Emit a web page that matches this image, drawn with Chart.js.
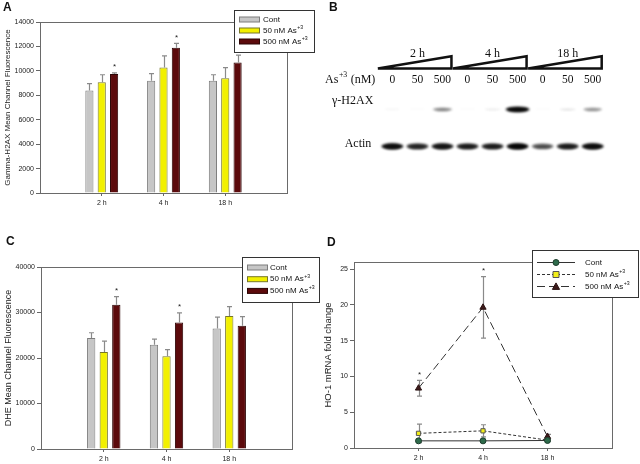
<!DOCTYPE html>
<html>
<head>
<meta charset="utf-8">
<script src="https://cdn.jsdelivr.net/npm/chart.js@4.4.1/dist/chart.umd.min.js"></script>
<style>
body{margin:0;background:#fff;width:640px;height:464px;position:relative;overflow:hidden;font-family:"Liberation Sans",Arial,sans-serif}
canvas{position:absolute;display:block}
.tag{position:absolute;font-weight:bold;font-size:12px;color:#111;line-height:12px}
</style>
</head>
<body>
<canvas id="chA" width="320" height="230" style="left:0;top:0"></canvas>
<canvas id="chB" width="320" height="230" style="left:320px;top:0"></canvas>
<canvas id="chC" width="320" height="234" style="left:0;top:230px"></canvas>
<canvas id="chD" width="320" height="234" style="left:320px;top:230px"></canvas>
<div class="tag" style="left:3px;top:1px">A</div>
<div class="tag" style="left:329px;top:1px">B</div>
<div class="tag" style="left:6px;top:235px">C</div>
<div class="tag" style="left:327px;top:236px">D</div>
<script>
// categories
var timeLabels = ['2 h', '4 h', '18 h'];
var seriesNames = ['Cont', '50 nM As+3', '500 nM As+3'];

// A - gamma-H2AX mean channel fluorescence
var h2axCont = [8400, 9180, 9180];
var h2axLow = [9060, 10270, 9400];
var h2axHigh = [9750, 11900, 10680];
var h2axContErr = [550, 600, 500];
var h2axLowErr = [620, 950, 870];
var h2axHighErr = [80, 350, 600];
var h2axHighStar = [1, 1, 0];

// C - DHE mean channel fluorescence
var dheCont = [24400, 22900, 26500];
var dheLow = [21300, 20400, 29250];
var dheHigh = [31700, 27800, 27100];
var dheContErr = [1150, 1250, 2500];
var dheLowErr = [2400, 1450, 2050];
var dheHighErr = [1800, 2100, 2000];
var dheHighStar = [1, 1, 0];

// D - HO-1 mRNA fold change
var ho1Cont = [1.0, 1.0, 1.05];
var ho1Low = [2.05, 2.4, 1.1];
var ho1High = [8.35, 19.65, 1.6];
var ho1ContErr = [0, 0, 0];
var ho1LowErr = [1.3, 0.85, 0.15];
var ho1HighErr = [1.1, 4.3, 0.3];
var ho1HighStar = [1, 1, 0];

// B - western blot lanes
var doseLabels = ['0', '50', '500', '0', '50', '500', '0', '50', '500'];
var h2axBand = [0.03, 0.02, 0.4, 0.02, 0.06, 1.0, 0.02, 0.08, 0.35];
var actinBand = [0.95, 0.8, 0.9, 0.85, 0.85, 1.0, 0.6, 0.85, 0.95];

var none = [0, 0, 0];
var sans = '"Liberation Sans", Arial, sans-serif';
var serif = '"Liberation Serif", "Times New Roman", serif';

Chart.defaults.font.family = sans;
Chart.defaults.color = '#222';
Chart.defaults.animation = false;

function pad(a){ return [null].concat(a, [null]); }
var xLabels = pad(timeLabels).map(function(l){ return l || ''; });

var barFill = ['#c6c6c6', '#f2f000', '#5c0a0c'];
var barEdge = ['#7c7c7c', '#77772a', '#2c0404'];

// text with a "+3" style superscript
function drawLabel(ctx, text, x, y, size, family, align){
  var parts = text.split('+');
  ctx.font = size + 'px ' + family;
  var w = ctx.measureText(parts[0]).width;
  var rest = parts[1] ? parts[1].split(' ') : null;
  var sup = rest ? '+' + rest[0] : '';
  var tail = rest && rest.length > 1 ? ' ' + rest.slice(1).join(' ') : '';
  ctx.font = (size * 0.65) + 'px ' + family;
  var ws = ctx.measureText(sup).width;
  ctx.font = size + 'px ' + family;
  var wt = ctx.measureText(tail).width;
  var x0 = align === 'right' ? x - (w + ws + wt + 1) : x;
  ctx.textAlign = 'left';
  ctx.textBaseline = 'middle';
  ctx.fillText(parts[0], x0, y);
  if (sup) {
    ctx.font = (size * 0.65) + 'px ' + family;
    ctx.fillText(sup, x0 + w + 0.5, y - size * 0.38);
    ctx.font = size + 'px ' + family;
    ctx.fillText(tail, x0 + w + ws + 1, y);
  }
}

var framePlugin = {
  id: 'frame',
  afterDatasetsDraw: function(chart){
    var a = chart.chartArea, ctx = chart.ctx;
    ctx.save();
    ctx.strokeStyle = '#6a6a6a';
    ctx.lineWidth = 1;
    ctx.strokeRect(Math.round(a.left) + 0.5, Math.round(a.top) + 0.5,
      Math.round(a.right - a.left), Math.round(a.bottom - a.top));
    ctx.restore();
  }
};

function drawErrors(chart, opts){
  var ctx = chart.ctx, ys = chart.scales.y;
  ctx.save();
  chart.data.datasets.forEach(function(ds, i){
    var meta = chart.getDatasetMeta(i);
    meta.data.forEach(function(el, j){
      var v = ds.data[j], e = ds.errors[j];
      if (v == null) return;
      var x = Math.round(el.x) + 0.5;
      var top = ys.getPixelForValue(v + e);
      var from = opts.both ? ys.getPixelForValue(v - e) : ys.getPixelForValue(v);
      if (e > 0) {
        ctx.strokeStyle = '#8a8a8a';
        ctx.lineWidth = 1.2;
        ctx.beginPath();
        ctx.moveTo(x, from); ctx.lineTo(x, top);
        ctx.moveTo(x - 2.5, top); ctx.lineTo(x + 2.5, top);
        if (opts.both) { ctx.moveTo(x - 2.5, from); ctx.lineTo(x + 2.5, from); }
        ctx.stroke();
      }
      if (ds.stars[j]) {
        ctx.fillStyle = '#222';
        ctx.font = '8px ' + sans;
        ctx.textAlign = 'center';
        ctx.textBaseline = 'middle';
        ctx.fillText('*', x, top - 6);
      }
    });
  });
  ctx.restore();
}

var errorPlugin = {
  id: 'errorBars',
  beforeDatasetsDraw: function(chart, args, opts){ if (opts.both) drawErrors(chart, opts); },
  afterDatasetsDraw: function(chart, args, opts){ if (!opts.both) drawErrors(chart, opts); }
};

var legendPlugin = {
  id: 'boxLegend',
  afterDraw: function(chart, args, o){
    var ctx = chart.ctx;
    ctx.save();
    ctx.fillStyle = '#fff';
    ctx.fillRect(o.x, o.y, o.w, o.h);
    ctx.strokeStyle = '#333';
    ctx.lineWidth = 1;
    ctx.strokeRect(o.x + 0.5, o.y + 0.5, o.w, o.h);
    chart.data.datasets.forEach(function(ds, i){
      var cy = o.y + o.top + i * o.rowH;
      if (o.lines) {
        ctx.strokeStyle = ds.borderColor;
        ctx.lineWidth = 1;
        ctx.setLineDash(ds.borderDash || []);
        ctx.beginPath();
        ctx.moveTo(o.x + 5, cy); ctx.lineTo(o.x + 43, cy);
        ctx.stroke();
        ctx.setLineDash([]);
        ctx.fillStyle = ds.pointBackgroundColor;
        ctx.strokeStyle = ds.pointBorderColor;
        var mx = o.x + 24, r = ds.pointRadius;
        ctx.beginPath();
        if (ds.pointStyle === 'circle') ctx.arc(mx, cy, r, 0, Math.PI * 2);
        else if (ds.pointStyle === 'rect') ctx.rect(mx - r, cy - r, r * 2, r * 2);
        else { ctx.moveTo(mx, cy - r); ctx.lineTo(mx + r, cy + r * 0.8); ctx.lineTo(mx - r, cy + r * 0.8); ctx.closePath(); }
        ctx.fill(); ctx.stroke();
      } else {
        ctx.fillStyle = ds.backgroundColor;
        ctx.strokeStyle = ds.borderColor;
        ctx.fillRect(o.x + 5, cy - 2.5, 20, 5);
        ctx.strokeRect(o.x + 5.5, cy - 2.5, 20, 5);
      }
      ctx.fillStyle = '#111';
      drawLabel(ctx, ds.label, o.x + o.textX, cy, 8, sans);
    });
    ctx.restore();
  }
};

function tickColor(c){ return (c.index > 0 && c.index < 4) ? '#666' : 'rgba(0,0,0,0)'; }

function axes(o){
  return {
    x: {
      offset: false,
      grid: { offset: false, drawOnChartArea: false, tickLength: 3, color: tickColor },
      border: { display: false },
      ticks: { font: { size: 7 }, padding: 3, autoSkip: false, maxRotation: 0 },
      afterFit: function(s){ s.height = o.xh; }
    },
    y: {
      min: 0, max: o.max,
      ticks: { stepSize: o.step, font: { size: 7 }, padding: 2, includeBounds: false,
        callback: function(v){ return String(v); } },
      grid: { drawOnChartArea: false, tickLength: 4, color: '#666' },
      border: { display: false },
      title: { display: true, text: o.title, font: { size: o.tsize }, padding: { top: 3, bottom: 0 } },
      afterFit: function(s){ s.width = o.yw; }
    }
  };
}

function barChart(id, series, errs, stars, o){
  return new Chart(document.getElementById(id), {
    type: 'bar',
    data: {
      labels: xLabels,
      datasets: series.map(function(s, i){
        return {
          label: seriesNames[i], data: pad(s), errors: pad(errs[i]), stars: pad(stars[i]),
          backgroundColor: barFill[i], borderColor: barEdge[i], borderWidth: 1,
          categoryPercentage: 0.6, barPercentage: 0.66
        };
      })
    },
    options: {
      responsive: false,
      layout: { padding: { top: o.top, right: o.right, left: 0, bottom: 0 } },
      plugins: { legend: { display: false }, tooltip: { enabled: false },
        errorBars: { both: false }, boxLegend: o.legend },
      scales: axes(o)
    },
    plugins: [errorPlugin, framePlugin, legendPlugin]
  });
}

barChart('chA', [h2axCont, h2axLow, h2axHigh], [h2axContErr, h2axLowErr, h2axHighErr],
  [none, none, h2axHighStar], {
    top: 22, right: 33, xh: 37, yw: 40, max: 14000, step: 2000, tsize: 8,
    title: 'Gamma-H2AX Mean Channel Fluorescence',
    legend: { x: 234, y: 10, w: 80, h: 42, top: 9.5, rowH: 11, textX: 29 }
  });

barChart('chC', [dheCont, dheLow, dheHigh], [dheContErr, dheLowErr, dheHighErr],
  [none, none, dheHighStar], {
    top: 37, right: 28, xh: 15, yw: 41, max: 40000, step: 10000, tsize: 9,
    title: 'DHE Mean Channel Fluorescence',
    legend: { x: 242, y: 27, w: 77, h: 45, top: 10.5, rowH: 11.7, textX: 28 }
  });

// D - line chart
var lineStyle = [
  { dash: [], point: 'circle', r: 3, fill: '#2e6b4b', edge: '#1c3d2c' },
  { dash: [3, 2], point: 'rect', r: 3, fill: '#f2ee1a', edge: '#555' },
  { dash: [8, 4], point: 'triangle', r: 3.6, fill: '#3c1a1a', edge: '#2a1010' }
];
var dSeries = [ho1Cont, ho1Low, ho1High];
var dErr = [ho1ContErr, ho1LowErr, ho1HighErr];
var dStar = [none, none, ho1HighStar];
var dOpts = { xh: 16, yw: 34, max: 26, step: 5, tsize: 9.5, title: 'HO-1 mRNA fold change' };

new Chart(document.getElementById('chD'), {
  type: 'line',
  data: {
    labels: xLabels,
    datasets: dSeries.map(function(s, i){
      var st = lineStyle[i];
      return {
        label: seriesNames[i], data: pad(s), errors: pad(dErr[i]), stars: pad(dStar[i]),
        borderColor: '#333', borderWidth: 1, borderDash: st.dash, spanGaps: false,
        pointStyle: st.point, pointRadius: st.r, pointBackgroundColor: st.fill,
        pointBorderColor: st.edge, pointBorderWidth: 1, tension: 0
      };
    })
  },
  options: {
    responsive: false,
    layout: { padding: { top: 32, right: 28, left: 0, bottom: 0 } },
    plugins: { legend: { display: false }, tooltip: { enabled: false },
      errorBars: { both: true },
      boxLegend: { x: 212, y: 20, w: 106, h: 47, top: 12.5, rowH: 12, textX: 53, lines: true } },
    scales: axes(dOpts)
  },
  plugins: [errorPlugin, framePlugin, legendPlugin]
});

// B - blot drawn as a scatter chart over lanes
var lanes = doseLabels.map(function(_, i){ return i + 1; });
var blotRows = { time: 50, wedgeTop: 53, wedgeBottom: 66, dose: 78, h2ax: 109, actin: 148 };

function bandImage(level, w, h){
  var c = document.createElement('canvas');
  c.width = Math.ceil(w + 10); c.height = Math.ceil(h + 10);
  var g = c.getContext('2d');
  g.filter = 'blur(1.3px)';
  g.fillStyle = 'rgba(12,12,12,' + Math.min(1, level) + ')';
  g.beginPath();
  g.ellipse(c.width / 2, c.height / 2, w / 2, h / 2, 0, 0, Math.PI * 2);
  g.fill();
  g.fillStyle = 'rgba(0,0,0,' + Math.min(1, level * 0.6) + ')';
  g.beginPath();
  g.ellipse(c.width / 2, c.height / 2 + 0.5, w / 2.6, h / 3.2, 0, 0, Math.PI * 2);
  g.fill();
  return c;
}

var wedgeSets = [0, 1, 2].map(function(g){
  var a = lanes[g * 3] - 0.58, b = lanes[g * 3 + 2] + 0.36;
  return {
    type: 'scatter', showLine: true, pointRadius: 0, borderColor: '#111', borderWidth: 2.5,
    borderJoinStyle: 'miter', fill: false,
    data: [{ x: a, y: blotRows.wedgeBottom }, { x: b, y: blotRows.wedgeBottom },
      { x: b, y: blotRows.wedgeTop }, { x: a, y: blotRows.wedgeBottom }]
  };
});

var blotText = {
  id: 'blotText',
  afterDatasetsDraw: function(chart){
    var ctx = chart.ctx, xs = chart.scales.x, ys = chart.scales.y;
    ctx.save();
    ctx.fillStyle = '#111';
    ctx.font = '12px ' + serif;
    ctx.textAlign = 'center';
    ctx.textBaseline = 'middle';
    timeLabels.forEach(function(t, g){
      ctx.fillText(t, xs.getPixelForValue(lanes[g * 3 + 1]), ys.getPixelForValue(blotRows.time));
    });
    ctx.font = '11.5px ' + serif;
    doseLabels.forEach(function(d, i){
      ctx.fillText(d, xs.getPixelForValue(lanes[i]), ys.getPixelForValue(blotRows.dose));
    });
    var lx = xs.getPixelForValue(lanes[0]) - 17;
    drawLabel(ctx, 'As+3 (nM)', lx, ys.getPixelForValue(blotRows.dose), 12, serif, 'right');
    ctx.textAlign = 'right';
    ctx.font = '12px ' + serif;
    ctx.fillText('\u03b3-H2AX', lx - 2, ys.getPixelForValue(blotRows.h2ax) - 8);
    ctx.fillText('Actin', lx - 4, ys.getPixelForValue(blotRows.actin) - 2);
    ctx.restore();
  }
};

new Chart(document.getElementById('chB'), {
  type: 'scatter',
  data: {
    datasets: [
      { data: lanes.map(function(l){ return { x: l, y: blotRows.h2ax }; }),
        pointStyle: h2axBand.map(function(v){ return bandImage(v, 16 + 8 * v, 2.5 + 3 * v); }),
        pointRadius: 5 },
      { data: lanes.map(function(l){ return { x: l, y: blotRows.actin }; }),
        pointStyle: actinBand.map(function(v){ return bandImage(v, 22, 4.5 + 2 * v); }),
        pointRadius: 5 }
    ].concat(wedgeSets)
  },
  options: {
    responsive: false,
    layout: { padding: 0 },
    plugins: { legend: { display: false }, tooltip: { enabled: false } },
    scales: {
      x: { type: 'linear', display: false, min: -1.65, max: 10.65 },
      y: { type: 'linear', display: false, min: 0, max: 230, reverse: true }
    }
  },
  plugins: [blotText]
});
</script>
</body>
</html>
